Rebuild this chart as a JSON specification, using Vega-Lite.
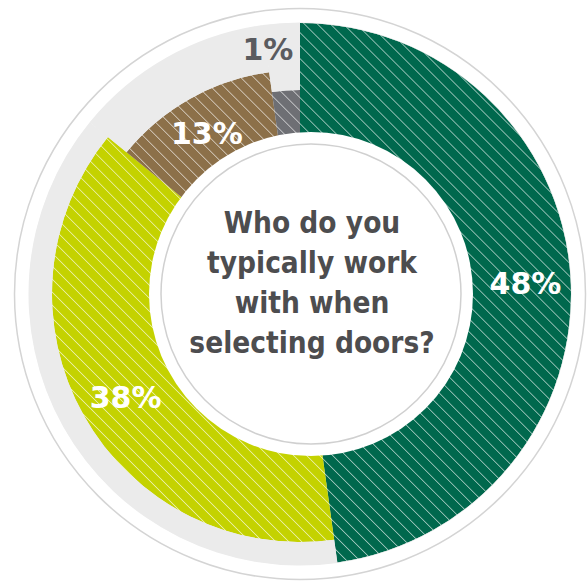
{
  "$schema": "https://vega.github.io/schema/vega-lite/v6.json",
  "width": 576,
  "height": 578,
  "autosize": {"type": "none"},
  "padding": {"left": 12, "top": 5, "right": 0, "bottom": 0},
  "background": "white",
  "view": {"stroke": null},
  "data": {
    "values": [
      {"group": "Group A", "share": 47.8, "pct": 48, "label": "48%", "rank": 1},
      {"group": "Group B", "share": 38.1, "pct": 38, "label": "38%", "rank": 2},
      {"group": "Group C", "share": 11.9, "pct": 13, "label": "13%", "rank": 3},
      {"group": "Group D", "share": 2.2, "pct": 1, "label": "1%", "rank": 4}
    ]
  },
  "layer": [
    {
      "data": {"values": [{}]},
      "mark": {"type": "arc", "radius": 285.5, "theta": 0, "theta2": 6.2832, "filled": false, "stroke": "#D4D4D4", "strokeWidth": 1.5},
      "encoding": {}
    },
    {
      "data": {"values": [{}]},
      "mark": {"type": "arc", "radius": 271, "theta": 0, "theta2": 6.2832, "fill": "#EBEBEB", "stroke": null},
      "encoding": {}
    },
    {
      "mark": {"type": "arc", "stroke": null},
      "encoding": {
        "theta": {"field": "share", "type": "quantitative", "stack": true},
        "order": {"field": "rank", "type": "quantitative"},
        "radius": {"field": "share", "type": "quantitative", "scale": {"type": "linear", "domain": [2.2, 11.9, 38.1, 47.8], "range": [204, 224, 248, 271]}},
        "radius2": {"value": 0},
        "color": {
          "field": "group", "type": "nominal", "legend": null,
          "scale": {"domain": ["Group A", "Group B", "Group C", "Group D"], "range": ["#00684D", "#C4D200", "#8C7049", "#6E6F74"]}
        }
      }
    },
    {
      "data": {"values": [{}]},
      "mark": {
        "type": "arc", "radius": 271, "theta": 0, "theta2": 6.2832, "stroke": null,
        "fill": {
          "gradient": "linear", "x1": 0, "y1": 1, "x2": 1, "y2": 0,
          "stops": [
            {"offset": 0.1400, "color": "#ffffff00"}, {"offset": 0.1411, "color": "#ffffffa0"}, {"offset": 0.1422, "color": "#ffffff00"},
            {"offset": 0.1520, "color": "#ffffff00"}, {"offset": 0.1531, "color": "#ffffffa0"}, {"offset": 0.1542, "color": "#ffffff00"},
            {"offset": 0.1640, "color": "#ffffff00"}, {"offset": 0.1651, "color": "#ffffffa0"}, {"offset": 0.1662, "color": "#ffffff00"},
            {"offset": 0.1760, "color": "#ffffff00"}, {"offset": 0.1771, "color": "#ffffffa0"}, {"offset": 0.1782, "color": "#ffffff00"},
            {"offset": 0.1880, "color": "#ffffff00"}, {"offset": 0.1891, "color": "#ffffffa0"}, {"offset": 0.1902, "color": "#ffffff00"},
            {"offset": 0.2000, "color": "#ffffff00"}, {"offset": 0.2011, "color": "#ffffffa0"}, {"offset": 0.2022, "color": "#ffffff00"},
            {"offset": 0.2120, "color": "#ffffff00"}, {"offset": 0.2131, "color": "#ffffffa0"}, {"offset": 0.2142, "color": "#ffffff00"},
            {"offset": 0.2240, "color": "#ffffff00"}, {"offset": 0.2251, "color": "#ffffffa0"}, {"offset": 0.2262, "color": "#ffffff00"},
            {"offset": 0.2360, "color": "#ffffff00"}, {"offset": 0.2371, "color": "#ffffffa0"}, {"offset": 0.2382, "color": "#ffffff00"},
            {"offset": 0.2480, "color": "#ffffff00"}, {"offset": 0.2491, "color": "#ffffffa0"}, {"offset": 0.2502, "color": "#ffffff00"},
            {"offset": 0.2600, "color": "#ffffff00"}, {"offset": 0.2611, "color": "#ffffffa0"}, {"offset": 0.2622, "color": "#ffffff00"},
            {"offset": 0.2720, "color": "#ffffff00"}, {"offset": 0.2731, "color": "#ffffffa0"}, {"offset": 0.2742, "color": "#ffffff00"},
            {"offset": 0.2840, "color": "#ffffff00"}, {"offset": 0.2851, "color": "#ffffffa0"}, {"offset": 0.2862, "color": "#ffffff00"},
            {"offset": 0.2960, "color": "#ffffff00"}, {"offset": 0.2971, "color": "#ffffffa0"}, {"offset": 0.2982, "color": "#ffffff00"},
            {"offset": 0.3080, "color": "#ffffff00"}, {"offset": 0.3091, "color": "#ffffffa0"}, {"offset": 0.3102, "color": "#ffffff00"},
            {"offset": 0.3200, "color": "#ffffff00"}, {"offset": 0.3211, "color": "#ffffffa0"}, {"offset": 0.3222, "color": "#ffffff00"},
            {"offset": 0.3320, "color": "#ffffff00"}, {"offset": 0.3331, "color": "#ffffffa0"}, {"offset": 0.3342, "color": "#ffffff00"},
            {"offset": 0.3440, "color": "#ffffff00"}, {"offset": 0.3451, "color": "#ffffffa0"}, {"offset": 0.3462, "color": "#ffffff00"},
            {"offset": 0.3560, "color": "#ffffff00"}, {"offset": 0.3571, "color": "#ffffffa0"}, {"offset": 0.3582, "color": "#ffffff00"},
            {"offset": 0.3680, "color": "#ffffff00"}, {"offset": 0.3691, "color": "#ffffffa0"}, {"offset": 0.3702, "color": "#ffffff00"},
            {"offset": 0.3800, "color": "#ffffff00"}, {"offset": 0.3811, "color": "#ffffffa0"}, {"offset": 0.3822, "color": "#ffffff00"},
            {"offset": 0.3920, "color": "#ffffff00"}, {"offset": 0.3931, "color": "#ffffffa0"}, {"offset": 0.3942, "color": "#ffffff00"},
            {"offset": 0.4040, "color": "#ffffff00"}, {"offset": 0.4051, "color": "#ffffffa0"}, {"offset": 0.4062, "color": "#ffffff00"},
            {"offset": 0.4160, "color": "#ffffff00"}, {"offset": 0.4171, "color": "#ffffffa0"}, {"offset": 0.4182, "color": "#ffffff00"},
            {"offset": 0.4280, "color": "#ffffff00"}, {"offset": 0.4291, "color": "#ffffffa0"}, {"offset": 0.4302, "color": "#ffffff00"},
            {"offset": 0.4400, "color": "#ffffff00"}, {"offset": 0.4411, "color": "#ffffffa0"}, {"offset": 0.4422, "color": "#ffffff00"},
            {"offset": 0.4520, "color": "#ffffff00"}, {"offset": 0.4531, "color": "#ffffffa0"}, {"offset": 0.4542, "color": "#ffffff00"},
            {"offset": 0.4640, "color": "#ffffff00"}, {"offset": 0.4651, "color": "#ffffffa0"}, {"offset": 0.4662, "color": "#ffffff00"},
            {"offset": 0.4760, "color": "#ffffff00"}, {"offset": 0.4771, "color": "#ffffffa0"}, {"offset": 0.4782, "color": "#ffffff00"},
            {"offset": 0.4880, "color": "#ffffff00"}, {"offset": 0.4891, "color": "#ffffffa0"}, {"offset": 0.4902, "color": "#ffffff00"},
            {"offset": 0.5000, "color": "#ffffff00"}, {"offset": 0.5011, "color": "#ffffffa0"}, {"offset": 0.5022, "color": "#ffffff00"},
            {"offset": 0.5120, "color": "#ffffff00"}, {"offset": 0.5131, "color": "#ffffffa0"}, {"offset": 0.5142, "color": "#ffffff00"},
            {"offset": 0.5240, "color": "#ffffff00"}, {"offset": 0.5251, "color": "#ffffffa0"}, {"offset": 0.5262, "color": "#ffffff00"},
            {"offset": 0.5360, "color": "#ffffff00"}, {"offset": 0.5371, "color": "#ffffffa0"}, {"offset": 0.5382, "color": "#ffffff00"},
            {"offset": 0.5480, "color": "#ffffff00"}, {"offset": 0.5491, "color": "#ffffffa0"}, {"offset": 0.5502, "color": "#ffffff00"},
            {"offset": 0.5600, "color": "#ffffff00"}, {"offset": 0.5611, "color": "#ffffffa0"}, {"offset": 0.5622, "color": "#ffffff00"},
            {"offset": 0.5720, "color": "#ffffff00"}, {"offset": 0.5731, "color": "#ffffffa0"}, {"offset": 0.5742, "color": "#ffffff00"},
            {"offset": 0.5840, "color": "#ffffff00"}, {"offset": 0.5851, "color": "#ffffffa0"}, {"offset": 0.5862, "color": "#ffffff00"},
            {"offset": 0.5960, "color": "#ffffff00"}, {"offset": 0.5971, "color": "#ffffffa0"}, {"offset": 0.5982, "color": "#ffffff00"},
            {"offset": 0.6080, "color": "#ffffff00"}, {"offset": 0.6091, "color": "#ffffffa0"}, {"offset": 0.6102, "color": "#ffffff00"},
            {"offset": 0.6200, "color": "#ffffff00"}, {"offset": 0.6211, "color": "#ffffffa0"}, {"offset": 0.6222, "color": "#ffffff00"},
            {"offset": 0.6320, "color": "#ffffff00"}, {"offset": 0.6331, "color": "#ffffffa0"}, {"offset": 0.6342, "color": "#ffffff00"},
            {"offset": 0.6440, "color": "#ffffff00"}, {"offset": 0.6451, "color": "#ffffffa0"}, {"offset": 0.6462, "color": "#ffffff00"},
            {"offset": 0.6560, "color": "#ffffff00"}, {"offset": 0.6571, "color": "#ffffffa0"}, {"offset": 0.6582, "color": "#ffffff00"},
            {"offset": 0.6680, "color": "#ffffff00"}, {"offset": 0.6691, "color": "#ffffffa0"}, {"offset": 0.6702, "color": "#ffffff00"},
            {"offset": 0.6800, "color": "#ffffff00"}, {"offset": 0.6811, "color": "#ffffffa0"}, {"offset": 0.6822, "color": "#ffffff00"},
            {"offset": 0.6920, "color": "#ffffff00"}, {"offset": 0.6931, "color": "#ffffffa0"}, {"offset": 0.6942, "color": "#ffffff00"},
            {"offset": 0.7040, "color": "#ffffff00"}, {"offset": 0.7051, "color": "#ffffffa0"}, {"offset": 0.7062, "color": "#ffffff00"},
            {"offset": 0.7160, "color": "#ffffff00"}, {"offset": 0.7171, "color": "#ffffffa0"}, {"offset": 0.7182, "color": "#ffffff00"},
            {"offset": 0.7280, "color": "#ffffff00"}, {"offset": 0.7291, "color": "#ffffffa0"}, {"offset": 0.7302, "color": "#ffffff00"},
            {"offset": 0.7400, "color": "#ffffff00"}, {"offset": 0.7411, "color": "#ffffffa0"}, {"offset": 0.7422, "color": "#ffffff00"},
            {"offset": 0.7520, "color": "#ffffff00"}, {"offset": 0.7531, "color": "#ffffffa0"}, {"offset": 0.7542, "color": "#ffffff00"},
            {"offset": 0.7640, "color": "#ffffff00"}, {"offset": 0.7651, "color": "#ffffffa0"}, {"offset": 0.7662, "color": "#ffffff00"},
            {"offset": 0.7760, "color": "#ffffff00"}, {"offset": 0.7771, "color": "#ffffffa0"}, {"offset": 0.7782, "color": "#ffffff00"},
            {"offset": 0.7880, "color": "#ffffff00"}, {"offset": 0.7891, "color": "#ffffffa0"}, {"offset": 0.7902, "color": "#ffffff00"},
            {"offset": 0.8000, "color": "#ffffff00"}, {"offset": 0.8011, "color": "#ffffffa0"}, {"offset": 0.8022, "color": "#ffffff00"},
            {"offset": 0.8120, "color": "#ffffff00"}, {"offset": 0.8131, "color": "#ffffffa0"}, {"offset": 0.8142, "color": "#ffffff00"},
            {"offset": 0.8240, "color": "#ffffff00"}, {"offset": 0.8251, "color": "#ffffffa0"}, {"offset": 0.8262, "color": "#ffffff00"},
            {"offset": 0.8360, "color": "#ffffff00"}, {"offset": 0.8371, "color": "#ffffffa0"}, {"offset": 0.8382, "color": "#ffffff00"},
            {"offset": 0.8480, "color": "#ffffff00"}, {"offset": 0.8491, "color": "#ffffffa0"}, {"offset": 0.8502, "color": "#ffffff00"},
            {"offset": 0.8600, "color": "#ffffff00"}, {"offset": 0.8611, "color": "#ffffffa0"}, {"offset": 0.8622, "color": "#ffffff00"}
          ]
        }
      },
      "encoding": {}
    },
    {
      "mark": {"type": "arc", "fill": "#EBEBEB", "stroke": null},
      "encoding": {
        "theta": {"field": "share", "type": "quantitative", "stack": true},
        "order": {"field": "rank", "type": "quantitative"},
        "radius": {"field": "share", "type": "quantitative", "scale": {"type": "linear", "domain": [2.2, 11.9, 38.1, 47.8], "range": [204, 224, 248, 271]}},
        "radius2": {"value": 271.5}
      }
    },
    {
      "data": {"values": [{}]},
      "mark": {"type": "arc", "radius": 162, "theta": 0, "theta2": 6.2832, "fill": "white", "stroke": null, "xOffset": 11},
      "encoding": {}
    },
    {
      "data": {"values": [{}]},
      "mark": {"type": "arc", "radius": 150, "theta": 0, "theta2": 6.2832, "fill": "white", "stroke": "#D0D0D0", "strokeWidth": 1.5, "xOffset": 11},
      "encoding": {}
    },
    {
      "mark": {"type": "text", "font": "DejaVu Sans", "fontWeight": "bold", "fontSize": 30, "dy": 7, "color": "white"},
      "encoding": {
        "theta": {"field": "share", "type": "quantitative", "stack": true},
        "order": {"field": "rank", "type": "quantitative"},
        "radius": {"field": "share", "type": "quantitative", "scale": {"type": "linear", "domain": [2.2, 11.9, 38.1, 47.8], "range": [247, 190, 200, 226]}},
        "text": {"condition": {"test": "datum.pct > 1", "field": "label", "type": "nominal"}, "value": ""}
      }
    },
    {
      "mark": {"type": "text", "font": "DejaVu Sans", "fontWeight": "bold", "fontSize": 30, "dx": -15, "dy": 3, "color": "#5A5B5F"},
      "encoding": {
        "theta": {"field": "share", "type": "quantitative", "stack": true},
        "order": {"field": "rank", "type": "quantitative"},
        "radius": {"value": 247},
        "text": {"condition": {"test": "datum.pct <= 1", "field": "label", "type": "nominal"}, "value": ""}
      }
    },
    {
      "data": {"values": [{}]},
      "mark": {
        "type": "text",
        "text": ["Who do you", "typically work", "with when", "selecting doors?"],
        "font": "DejaVu Sans Condensed",
        "fontWeight": "bold",
        "fontSize": 29.5,
        "lineHeight": 40,
        "color": "#4D4D4F",
        "dx": 12,
        "dy": -70
      },
      "encoding": {}
    }
  ],
  "resolve": {"scale": {"radius": "independent"}}
}
